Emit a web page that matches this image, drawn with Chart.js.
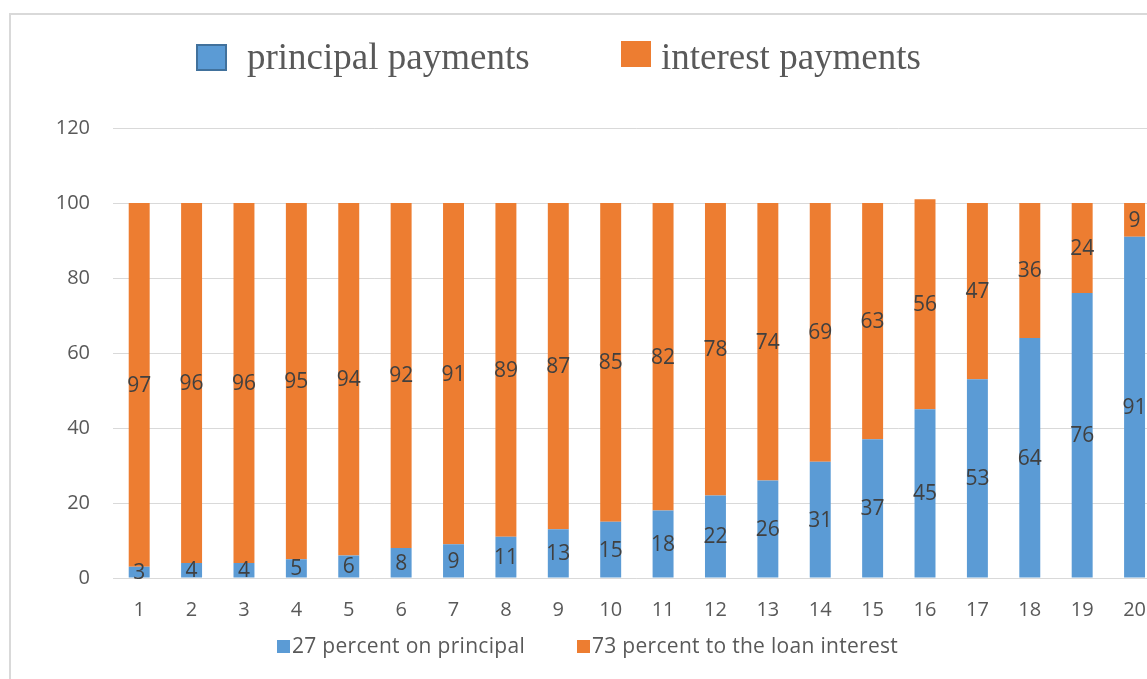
<!DOCTYPE html>
<html>
<head>
<meta charset="utf-8">
<script src="https://cdn.jsdelivr.net/npm/chart.js@4.4.1/dist/chart.umd.min.js"></script>
<style>
  html, body { margin:0; padding:0; width:1147px; height:679px; overflow:hidden; background:#fff; }
  #frame { position:absolute; left:9px; top:13px; width:1300px; height:800px; border-left:2px solid #d9d9d9; border-top:2px solid #d9d9d9; }
  #wrap { position:absolute; left:0; top:0; width:1166px; height:679px; }
  .tl { position:absolute; font-family:"Liberation Serif","Times New Roman",serif; font-size:37px; color:#595959; line-height:37px; white-space:nowrap; }
  .tbox { position:absolute; box-sizing:border-box; }
  .bl { position:absolute; font-family:"Open Sans",sans-serif; font-size:21px; letter-spacing:0.3px; color:#595959; line-height:22px; white-space:nowrap; }
  .bbox { position:absolute; width:13px; height:13px; }
</style>
</head>
<body>
<div id="frame"></div>
<div id="wrap"><canvas id="c" width="1166" height="679"></canvas></div>
<div id="legends"></div>
<script>
const categories = ["1","2","3","4","5","6","7","8","9","10","11","12","13","14","15","16","17","18","19","20"];
const principal = [3,4,4,5,6,8,9,11,13,15,18,22,26,31,37,45,53,64,76,91];
const interest  = [97,96,96,95,94,92,91,89,87,85,82,78,74,69,63,56,47,36,24,9];
const seriesNames = ["27 percent on principal","73 percent to the loan interest"];
const topLegendNames = ["principal payments","interest payments"];
const colors = ["#5b9bd5","#ed7d31"];

// HTML legends
const lg = document.getElementById('legends');
lg.innerHTML =
  '<div class="tbox" style="left:196px;top:44px;width:31px;height:27px;background:'+colors[0]+';border:2px solid #41719c"></div>' +
  '<div class="tl" style="left:247px;top:38px">'+topLegendNames[0]+'</div>' +
  '<div class="tbox" style="left:621px;top:41px;width:30px;height:26px;background:'+colors[1]+'"></div>' +
  '<div class="tl" style="left:661px;top:38px">'+topLegendNames[1]+'</div>' +
  '<div class="bbox" style="left:277px;top:640px;background:'+colors[0]+'"></div>' +
  '<div class="bl" style="left:292px;top:634px">'+seriesNames[0]+'</div>' +
  '<div class="bbox" style="left:577px;top:640px;background:'+colors[1]+'"></div>' +
  '<div class="bl" style="left:592px;top:634px">'+seriesNames[1]+'</div>';

const labelPlugin = {
  id:'segLabels',
  afterDatasetsDraw(chart){
    const ctx = chart.ctx;
    ctx.save();
    ctx.font = '21px "Open Sans", sans-serif';
    ctx.fillStyle = '#404040';
    ctx.textAlign = 'center';
    ctx.textBaseline = 'middle';
    chart.data.datasets.forEach((ds, di) => {
      const meta = chart.getDatasetMeta(di);
      meta.data.forEach((el, i) => {
        const y = (el.y + el.base) / 2 + 1;
        ctx.fillText(String(ds.data[i]), el.x, y);
      });
    });
    ctx.restore();
  }
};

new Chart(document.getElementById('c'), {
  type:'bar',
  data:{
    labels: categories,
    datasets:[
      { label: seriesNames[0], data: principal, backgroundColor: colors[0], borderWidth:0, barPercentage:0.8, categoryPercentage:0.5 },
      { label: seriesNames[1], data: interest, backgroundColor: colors[1], borderWidth:0, barPercentage:0.8, categoryPercentage:0.5 }
    ]
  },
  options:{
    responsive:false,
    animation:false,
    layout:{ padding:{ left:0, right:0, top:128, bottom:61 } },
    plugins:{ legend:{ display:false }, tooltip:{ enabled:false } },
    scales:{
      x:{
        stacked:true,
        grid:{ display:false, drawTicks:false },
        border:{ display:false },
        ticks:{ color:'#595959', font:{ family:'"Open Sans", sans-serif', size:20 }, padding:20, maxRotation:0, autoSkip:false },
        afterFit(s){ s.height = 40; }
      },
      y:{
        stacked:true, min:0, max:120,
        grid:{ color:'#d9d9d9', lineWidth:1, drawTicks:false },
        border:{ display:false },
        ticks:{ stepSize:20, color:'#595959', font:{ family:'"Open Sans", sans-serif', size:20 }, padding:23 },
        afterFit(s){ s.width = 113; }
      }
    }
  },
  plugins:[labelPlugin]
});
</script>
</body>
</html>
